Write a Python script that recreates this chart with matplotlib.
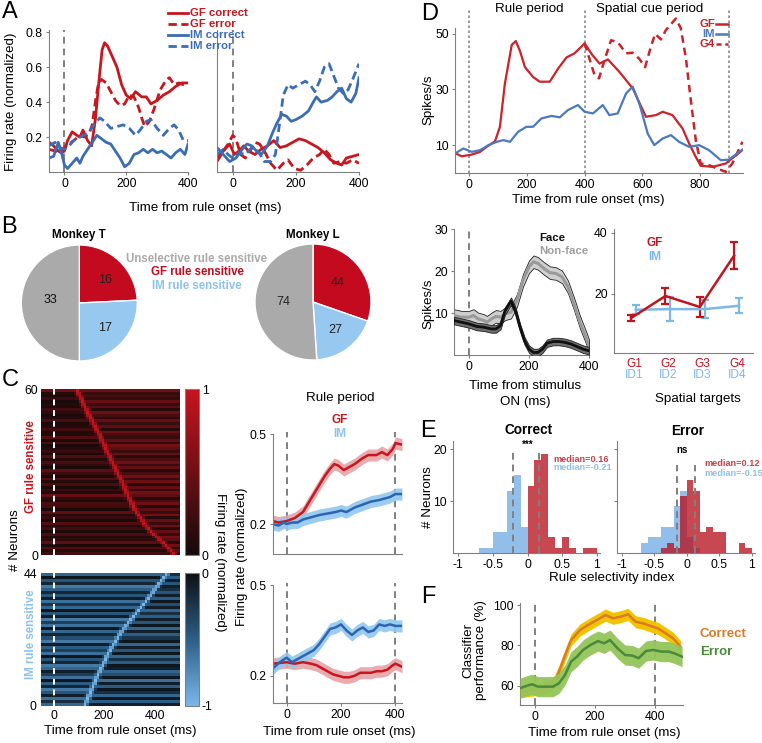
import numpy as np
import matplotlib
matplotlib.use("Agg")
import matplotlib.pyplot as plt
from matplotlib.colors import LinearSegmentedColormap
from matplotlib.lines import Line2D

plt.rcParams["font.family"] = ["Liberation Sans", "DejaVu Sans"]
plt.rcParams["axes.unicode_minus"] = False

# ---------------- data ----------------
# A: single-neuron examples (time ms, normalized rate)
a1_gfc_t = [-50, -35, -20, -10, 0, 10, 25, 40, 50, 60, 75, 88, 100, 108, 115, 122, 130, 140, 150, 160, 170, 185, 200, 215, 230, 250, 265, 280, 300, 320, 340, 360, 380, 400]
a1_gfc_v = [0.17, 0.15, 0.12, 0.11, 0.12, 0.18, 0.23, 0.21, 0.2, 0.24, 0.18, 0.15, 0.3, 0.45, 0.58, 0.7, 0.74, 0.72, 0.68, 0.64, 0.6, 0.5, 0.44, 0.42, 0.46, 0.43, 0.43, 0.39, 0.41, 0.44, 0.46, 0.49, 0.51, 0.51]
a1_gfe_t = [-50, -30, -15, 0, 15, 30, 50, 65, 80, 90, 100, 110, 120, 135, 150, 165, 180, 195, 210, 225, 240, 250, 260, 275, 290, 310, 330, 340, 355, 370, 385, 400]
a1_gfe_v = [0.13, 0.12, 0.11, 0.14, 0.16, 0.18, 0.21, 0.2, 0.22, 0.27, 0.4, 0.51, 0.53, 0.51, 0.46, 0.41, 0.38, 0.39, 0.44, 0.43, 0.37, 0.31, 0.26, 0.29, 0.36, 0.47, 0.53, 0.54, 0.5, 0.51, 0.5, 0.5]
a1_imc_t = [-50, -35, -20, -8, 0, 10, 25, 40, 50, 60, 75, 90, 105, 120, 135, 150, 165, 180, 195, 210, 225, 240, 255, 270, 285, 300, 315, 330, 345, 360, 375, 390, 400]
a1_imc_v = [0.08, 0.09, 0.17, 0.1, 0.04, 0.02, 0.05, 0.08, 0.05, 0.09, 0.13, 0.17, 0.21, 0.19, 0.17, 0.16, 0.12, 0.08, 0.03, 0.05, 0.1, 0.11, 0.13, 0.11, 0.13, 0.11, 0.12, 0.1, 0.08, 0.11, 0.13, 0.1, 0.16]
a1_ime_t = [-50, -30, -15, 0, 15, 30, 50, 75, 100, 115, 130, 150, 170, 190, 210, 230, 245, 265, 280, 300, 320, 340, 355, 370, 385, 400]
a1_ime_v = [0.15, 0.17, 0.14, 0.13, 0.15, 0.18, 0.2, 0.22, 0.28, 0.31, 0.29, 0.25, 0.26, 0.27, 0.25, 0.21, 0.24, 0.29, 0.3, 0.25, 0.21, 0.25, 0.27, 0.24, 0.18, 0.18]

a2_gfc_t = [-50, -30, -10, 5, 20, 35, 50, 70, 90, 110, 130, 150, 170, 190, 210, 230, 250, 270, 290, 310, 330, 345, 360, 380, 400]
a2_gfc_v = [0.08, 0.12, 0.16, 0.1, 0.12, 0.15, 0.12, 0.1, 0.13, 0.15, 0.18, 0.14, 0.15, 0.17, 0.19, 0.18, 0.16, 0.14, 0.11, 0.07, 0.05, 0.04, 0.08, 0.09, 0.1]
a2_gfe_t = [-50, -30, -15, 0, 10, 25, 40, 55, 70, 85, 100, 120, 140, 160, 175, 195, 215, 235, 255, 275, 290, 305, 320, 340, 360, 380, 400]
a2_gfe_v = [0.06, 0.12, 0.16, 0.21, 0.19, 0.1, 0.08, 0.12, 0.17, 0.16, 0.12, 0.05, 0.01, 0.05, 0.07, 0.02, 0.01, 0.04, 0.08, 0.1, 0.13, 0.1, 0.05, 0.06, 0.05, 0.07, 0.05]
a2_imc_t = [-50, -30, -10, 10, 30, 45, 60, 75, 90, 110, 125, 140, 155, 170, 185, 200, 220, 240, 255, 265, 280, 300, 315, 330, 345, 360, 375, 390, 400]
a2_imc_v = [0.14, 0.1, 0.06, 0.08, 0.13, 0.16, 0.15, 0.12, 0.1, 0.15, 0.22, 0.28, 0.33, 0.32, 0.29, 0.3, 0.32, 0.35, 0.4, 0.43, 0.4, 0.41, 0.43, 0.46, 0.48, 0.42, 0.4, 0.45, 0.54]
a2_ime_t = [-50, -30, -15, 0, 20, 40, 60, 80, 100, 120, 135, 150, 160, 175, 190, 210, 230, 245, 260, 275, 290, 305, 320, 335, 350, 365, 380, 400]
a2_ime_v = [0.1, 0.13, 0.1, 0.08, 0.11, 0.1, 0.14, 0.12, 0.06, 0.06, 0.1, 0.3, 0.44, 0.5, 0.48, 0.5, 0.52, 0.5, 0.46, 0.52, 0.6, 0.62, 0.55, 0.48, 0.45, 0.47, 0.53, 0.62]

# B: neuron counts (GF, IM, unselective)
pie_labels = ["GF rule sensitive", "IM rule sensitive", "Unselective rule sensitive"]
monkey_t = [16, 17, 33]
monkey_l = [44, 27, 74]

# C: heatmaps -- peak latency (ms) and background level per neuron, bottom row first
gf_latency = [475, 465, 455, 445, 433, 420, 408, 396, 385, 373,
              365, 357, 350, 343, 335, 327, 320,
              315, 310, 305, 300, 295, 290, 285, 280, 276, 272,
              266, 260, 254, 249, 243, 238, 233, 227,
              222, 216, 211, 206, 201, 196, 191, 186, 181,
              175, 169, 163, 157, 152, 146, 141, 135,
              130, 125, 120, 115, 110, 105, 100, 95]
gf_bg_pre = [0.25, 0.1, 0.35, 0.05, 0.4, 0.15, 0.1, 0.3, 0.05, 0.25,
             0.1, 0.35, 0.05, 0.2, 0.1, 0.4, 0.05, 0.25, 0.3, 0.05,
             0.15, 0.45, 0.1, 0.2, 0.05, 0.3, 0.1, 0.35, 0.05, 0.2,
             0.4, 0.05, 0.15, 0.3, 0.1, 0.35, 0.05, 0.2, 0.1, 0.05,
             0.3, 0.05, 0.35, 0.1, 0.05, 0.25, 0.1, 0.05, 0.3, 0.1,
             0.05, 0.15, 0.25, 0.05, 0.1, 0.05, 0.2, 0.05, 0.1, 0.5]
gf_bg_post = [0.2, 0.45, 0.15, 0.5, 0.1, 0.4, 0.55, 0.2, 0.45, 0.1,
              0.5, 0.2, 0.45, 0.1, 0.55, 0.2, 0.4, 0.1, 0.5, 0.3,
              0.1, 0.4, 0.55, 0.2, 0.45, 0.1, 0.5, 0.2, 0.55, 0.3,
              0.1, 0.45, 0.2, 0.5, 0.3, 0.1, 0.45, 0.2, 0.4, 0.55,
              0.15, 0.45, 0.2, 0.3, 0.5, 0.1, 0.4, 0.2, 0.45, 0.15,
              0.3, 0.5, 0.1, 0.4, 0.2, 0.45, 0.15, 0.3, 0.2, 0.5]
im_latency = [125, 130, 135, 140, 145, 150, 155, 160, 165, 170,
              175, 181, 187, 193, 199, 205, 210, 215,
              223, 230, 238, 245, 253, 261,
              270, 279, 288, 297, 306, 315,
              324, 334, 344, 354, 364, 373,
              382, 391, 400, 409, 418, 427, 437, 447]
im_bg_pre = [0.55, 0.2, 0.6, 0.1, 0.45, 0.65, 0.15, 0.5, 0.05, 0.6,
             0.3, 0.1, 0.55, 0.65, 0.15, 0.45, 0.05, 0.6, 0.3, 0.5,
             0.1, 0.65, 0.4, 0.15, 0.55, 0.05, 0.6, 0.3, 0.65, 0.1,
             0.45, 0.05, 0.55, 0.25, 0.6, 0.1, 0.45, 0.15, 0.5, 0.65,
             0.15, 0.45, 0.05, 0.55]
im_bg_post = [0.1, 0.5, 0.05, 0.55, 0.2, 0.05, 0.5, 0.1, 0.6, 0.05,
              0.4, 0.55, 0.1, 0.05, 0.5, 0.2, 0.55, 0.05, 0.45, 0.1,
              0.55, 0.05, 0.25, 0.5, 0.1, 0.55, 0.05, 0.45, 0.1, 0.5,
              0.2, 0.55, 0.1, 0.4, 0.05, 0.5, 0.1, 0.45, 0.2, 0.1,
              0.45, 0.1, 0.5, 0.2]

# C right: population averages (mean, band half-width)
c1_gf_t = [-50, -30, 0, 30, 60, 80, 100, 120, 140, 160, 175, 190, 210, 230, 250, 280, 300, 330, 350, 370, 390, 400, 424]
c1_gf_v = [0.21, 0.205, 0.21, 0.22, 0.24, 0.27, 0.3, 0.33, 0.36, 0.385, 0.4, 0.395, 0.38, 0.39, 0.4, 0.42, 0.43, 0.43, 0.44, 0.43, 0.45, 0.47, 0.465]
c1_im_t = [-50, -30, -10, 0, 20, 40, 60, 80, 100, 120, 150, 180, 200, 220, 250, 280, 310, 340, 360, 380, 400, 424]
c1_im_v = [0.2, 0.195, 0.205, 0.2, 0.205, 0.205, 0.215, 0.22, 0.225, 0.23, 0.235, 0.24, 0.245, 0.24, 0.255, 0.265, 0.275, 0.28, 0.285, 0.29, 0.3, 0.3]
c2_im_t = [-50, -25, 0, 20, 40, 60, 80, 100, 120, 140, 160, 180, 200, 220, 240, 260, 280, 300, 320, 340, 360, 380, 400, 424]
c2_im_v = [0.225, 0.245, 0.26, 0.245, 0.255, 0.265, 0.275, 0.285, 0.305, 0.33, 0.355, 0.36, 0.37, 0.35, 0.335, 0.35, 0.36, 0.345, 0.35, 0.37, 0.365, 0.37, 0.365, 0.365]
c2_gf_t = [-50, 0, 30, 60, 90, 110, 130, 150, 170, 190, 210, 230, 250, 270, 290, 310, 330, 350, 370, 390, 400, 424]
c2_gf_v = [0.24, 0.245, 0.24, 0.245, 0.24, 0.235, 0.225, 0.215, 0.205, 0.2, 0.195, 0.195, 0.2, 0.21, 0.21, 0.21, 0.215, 0.215, 0.22, 0.235, 0.24, 0.23]
c_sem = 0.02

# D top: example neuron (spikes/s)
d_gf_t = [-50, -27, 8, 37, 60, 89, 106, 123, 147, 161, 175, 193, 221, 244, 279, 308, 337, 365, 388, 400, 426, 452, 481, 521, 567, 613, 648, 671, 705, 740, 763, 786, 803, 844, 890, 948]
d_gf_v = [7.2, 6, 6.6, 7.6, 9.4, 11.4, 16.6, 32, 46, 47.4, 44, 38, 34.5, 32.8, 32.8, 37.5, 41.5, 43, 45.3, 46.6, 42.5, 39.3, 40.8, 36.3, 30.4, 20.2, 20.8, 22, 20.8, 16, 10.6, 5.8, 2.6, 2.2, 3.4, 8.2]
d_g4_t = [400, 417, 435, 450, 469, 492, 515, 544, 567, 590, 610, 630, 645, 665, 682, 717, 734, 752, 769, 786, 803, 832, 861, 890, 913, 948]
d_g4_v = [46.6, 41, 35, 34, 40.5, 47.7, 47, 43, 43.2, 41, 38, 45.3, 50, 48, 51.3, 55.5, 52, 41, 26, 11.8, 3.4, 2.8, 1.6, 0.4, 3.4, 11.2]
d_im_t = [-50, -21, 8, 37, 66, 95, 118, 141, 169, 198, 221, 250, 285, 314, 342, 377, 400, 429, 463, 486, 515, 544, 567, 590, 619, 642, 671, 700, 728, 763, 798, 832, 873, 901, 948]
d_im_v = [7, 8.8, 7.6, 8.2, 10, 11.2, 11.8, 11.2, 14.8, 16.6, 16.6, 19.6, 20.5, 20, 22.6, 24.4, 22, 21.4, 24.4, 20.8, 21.4, 28.6, 31, 25, 14.2, 10, 12.4, 13.6, 11.2, 9.4, 10, 8.2, 4.6, 4.8, 8.4]

# D bottom-left: face / non-face responses
face_t = [-50, -25, 0, 25, 50, 75, 90, 105, 120, 140, 155, 170, 185, 200, 215, 230, 245, 260, 280, 300, 320, 340, 360, 380, 400]
face_v = [8.2, 7.8, 7.4, 6.8, 6.6, 6.2, 6.2, 7.0, 10.5, 12.8, 10.5, 6.6, 3.4, 1.4, 0.6, 0.6, 1.4, 2.8, 3.2, 3.2, 3.0, 2.6, 2.0, 1.4, 1.0]
nonface_t = [-50, -25, 0, 15, 30, 50, 60, 75, 90, 105, 120, 140, 160, 180, 200, 215, 230, 250, 270, 290, 310, 330, 350, 370, 390, 400]
nonface_v = [9.4, 9, 9, 9.4, 8.6, 8.2, 7.8, 8.6, 9.2, 9, 9.8, 10.2, 13, 17.8, 21, 22.2, 21.8, 20.6, 19.6, 19.4, 18.6, 16.2, 12.2, 7.8, 4.2, 2.2]

# D bottom-right: spatial tuning
targets_gf = ["G1", "G2", "G3", "G4"]
targets_im = ["ID1", "ID2", "ID3", "ID4"]
tune_gf = [12.1, 19.3, 15.7, 32.5]
tune_gf_err = [0.9, 2.7, 3.4, 4.5]
tune_im = [14.8, 15.0, 15.0, 16.1]
tune_im_err = [1.5, 3.9, 2.9, 2.4]

# E: rule selectivity histograms, bins of 0.1 from -1 to 1
hist_edges = np.round(np.arange(-1.0, 1.0001, 0.1), 2)
corr_im = [0, 0, 0, 1, 1, 4, 4, 12, 15, 5, 0, 0, 0, 0, 0, 0, 0, 0, 0, 0]
corr_gf = [0, 0, 0, 0, 0, 0, 0, 0, 0, 0, 13, 18, 19, 3, 1, 3, 1, 0, 1, 1]
err_im = [0, 0, 0, 2, 3, 3, 5, 5, 9, 12, 3, 1, 0, 0, 0, 0, 0, 0, 0, 0]
err_gf = [0, 0, 0, 0, 0, 0, 1, 2, 1, 11, 14, 12, 4, 5, 4, 4, 0, 0, 2, 1]
med_corr = {"GF": 0.16, "IM": -0.21}
med_err = {"GF": 0.12, "IM": -0.15}

# F: decoder performance (%)
f_corr_t = [-50, -25, 0, 25, 50, 65, 80, 100, 120, 150, 180, 210, 235, 260, 285, 310, 335, 360, 385, 410, 435, 460, 485]
f_corr_v = [57, 57.5, 58, 58.5, 60, 62, 67, 75, 82.6, 87.6, 90.4, 92.9, 95, 93.4, 94.2, 95.4, 91.7, 90.9, 89.6, 88.4, 86, 83.5, 79.3]
f_err_t = [-50, -30, -10, 10, 30, 60, 80, 100, 120, 140, 160, 185, 210, 230, 250, 275, 300, 325, 345, 370, 395, 420, 445, 465, 490]
f_err_v = [58.7, 59.8, 60.7, 59.5, 59.5, 59.5, 61.2, 65.3, 71.9, 74.4, 77.7, 80.2, 82.1, 81, 82.6, 78.5, 75.2, 74.9, 73.6, 77.2, 77.7, 76.9, 76.9, 76, 74.4]

# ---------------- style ----------------
RED = "#C8161E"
BLUE = "#3B6DB4"
LBLUE = "#8DC3EB"
PGRAY = "#AAAAAA"
SPINE = "#808080"
DASH = (0, (3.5, 2.5))
TICK = 8.8
LAB = 9.6

W, H = 762, 743
fig = plt.figure(figsize=(W / 100, H / 100), dpi=100)


def box(l, t, r, b):
    return [l / W, 1 - b / H, (r - l) / W, (b - t) / H]


def ftext(x, y, s, **kw):
    kw.setdefault("ha", "center")
    kw.setdefault("va", "center")
    fig.text(x / W, 1 - y / H, s, **kw)


def style(ax):
    for s in ("top", "right"):
        ax.spines[s].set_visible(False)
    for s in ("left", "bottom"):
        ax.spines[s].set_color(SPINE)
    ax.tick_params(labelsize=TICK, length=2.5, color=SPINE, pad=2)


def vdash(ax, x, color=SPINE, lw=1.4, ls=DASH):
    ax.axvline(x, color=color, lw=lw, ls=ls, zorder=1)


# ---------------- A ----------------
for i, (l, r) in enumerate([(49, 188), (217, 359)]):
    ax = fig.add_axes(box(l, 30, r, 172))
    style(ax)
    ax.set_xlim(-50, 400)
    ax.set_ylim(0, 0.813)
    vdash(ax, 0)
    if i == 0:
        curves = [(a1_gfc_t, a1_gfc_v, RED, "-"), (a1_gfe_t, a1_gfe_v, RED, "--"),
                  (a1_imc_t, a1_imc_v, BLUE, "-"), (a1_ime_t, a1_ime_v, BLUE, "--")]
    else:
        curves = [(a2_gfc_t, a2_gfc_v, RED, "-"), (a2_gfe_t, a2_gfe_v, RED, "--"),
                  (a2_imc_t, a2_imc_v, BLUE, "-"), (a2_ime_t, a2_ime_v, BLUE, "--")]
    for t, v, c, ls in curves:
        ax.plot(t, v, color=c, lw=2.0, ls=ls if ls == "-" else (0, (3, 1.6)))
    ax.set_xticks([0, 200, 400])
    ax.set_yticks([0.2, 0.4, 0.6, 0.8])
    if i == 0:
        ax.set_yticklabels(["0.2", "0.4", "0.6", "0.8"])
    else:
        ax.set_yticklabels([])
        ax.tick_params(axis="y", length=0)

ftext(11, 102, "Firing rate (normalized)", rotation=90, fontsize=LAB)
ftext(205, 208, "Time from rule onset (ms)", fontsize=LAB)
for k, (lab, c, ls) in enumerate([("GF correct", RED, "-"), ("GF error", RED, (0, (3, 1.6))),
                                  ("IM correct", BLUE, "-"), ("IM error", BLUE, (0, (3, 1.6)))]):
    y = 13.3 + 11 * k
    fig.add_artist(Line2D([168 / W, 188 / W], [1 - y / H, 1 - y / H], color=c, lw=2, ls=ls))
    ftext(190.5, y, lab, ha="left", fontsize=8.2, fontweight="bold", color=c)

# ---------------- B ----------------
pie_colors = ["#C30A1E", "#96C8F0", PGRAY]
for (cx, cy), counts, title, lab_pos in [
        ((79.3, 303), monkey_t, "Monkey T", [(105, 280, "#222222"), (105, 328, "#222222"), (50, 300, "#111111")]),
        ((313, 302), monkey_l, "Monkey L", [(338, 283, "#222222"), (335, 330, "#222222"), (283, 302, "#222222")])]:
    ax = fig.add_axes(box(cx - 58, cy - 58, cx + 58, cy + 58))
    ax.pie(counts, colors=pie_colors, startangle=90, counterclock=False,
           wedgeprops=dict(edgecolor="white", linewidth=1.0))
    ax.set_xlim(-1, 1)
    ax.set_ylim(-1, 1)
    ax.set_aspect("auto")
    ax.axis("off")
    ftext(cx, 235, title, fontsize=8.4, fontweight="bold")
    for (x, y, c), n in zip(lab_pos, counts):
        ftext(x, y, str(n), fontsize=9, color=c)

ftext(197, 259, pie_labels[2], fontsize=8.3, fontweight="bold", color=PGRAY)
ftext(197, 272, pie_labels[0], fontsize=8.3, fontweight="bold", color="#C30A1E")
ftext(197, 286, pie_labels[1], fontsize=8.3, fontweight="bold", color=LBLUE)

# ---------------- C heatmaps ----------------
hm_t = np.arange(-45, 500, 10)


def build_map(lat, pre, post):
    rows = []
    for L, a, b in zip(lat, pre, post):
        base = np.where(hm_t < L, a, b)
        peak = np.exp(-((hm_t - L) / 13.0) ** 2)
        rows.append(np.maximum(base, peak))
    return np.array(rows)


gf_cmap = LinearSegmentedColormap.from_list("gf", ["#140a0a", "#C8141E"])
im_cmap = LinearSegmentedColormap.from_list("im", ["#7AB8EA", "#2C5E86", "#0c1014"])

ax = fig.add_axes(box(41, 389, 180, 555))
im1 = ax.imshow(build_map(gf_latency, gf_bg_pre, gf_bg_post), origin="lower", aspect="auto",
                extent=[-50, 500, 0, len(gf_latency)], cmap=gf_cmap, vmin=0, vmax=1,
                interpolation="nearest")
ax.axvline(0, color="white", lw=1.4, ls=(0, (3, 2.5)))
ax.set_yticks([0, len(gf_latency)])
ax.set_xticks([])
ax.tick_params(labelsize=TICK, length=0, pad=2)
for s in ax.spines.values():
    s.set_visible(False)
cax = fig.add_axes(box(185, 389, 199, 555))
cb = fig.colorbar(im1, cax=cax, ticks=[0, 1])
cb.outline.set_edgecolor(SPINE)
cax.tick_params(labelsize=TICK, length=0, pad=2)

ax = fig.add_axes(box(41, 573, 180, 706))
im2 = ax.imshow(-build_map(im_latency, im_bg_pre, im_bg_post), origin="lower", aspect="auto",
                extent=[-50, 500, 0, len(im_latency)], cmap=im_cmap, vmin=-1, vmax=0,
                interpolation="nearest")
ax.axvline(0, color="white", lw=1.4, ls=(0, (3, 2.5)))
ax.set_yticks([0, len(im_latency)])
ax.set_xticks([0, 200, 400])
ax.tick_params(labelsize=TICK, length=0, pad=3)
for s in ax.spines.values():
    s.set_visible(False)
cax = fig.add_axes(box(185, 573, 199, 706))
cb = fig.colorbar(im2, cax=cax, ticks=[-1, 0])
cb.outline.set_edgecolor(SPINE)
cax.tick_params(labelsize=TICK, length=0, pad=2)

ftext(15, 540, "# Neurons", rotation=90, fontsize=LAB)
ftext(31, 467, "GF rule sensitive", rotation=90, fontsize=8.3, fontweight="bold", color=RED)
ftext(31, 634, "IM rule sensitive", rotation=90, fontsize=8.3, fontweight="bold", color=LBLUE)
ftext(220, 562, "Firing rate (normalized)", rotation=270, fontsize=LAB)
ftext(120, 731, "Time from rule onset (ms)", fontsize=LAB)

# ---------------- C population ----------------
for (t, b), (yl, y0, y1) in zip([(432, 554), (583, 703)], [(0.1, 0.507, 0), (0.11, 0.507, 1)]):
    ax = fig.add_axes(box(273, t, 402, b))
    style(ax)
    ax.set_xlim(-50, 424)
    ax.set_ylim(yl, y0)
    vdash(ax, 0)
    vdash(ax, 400)
    if y1 == 0:
        series = [(c1_gf_t, c1_gf_v, RED, "#E6A2A7"), (c1_im_t, c1_im_v, "#2E64B0", "#8FC8F0")]
    else:
        series = [(c2_gf_t, c2_gf_v, RED, "#E6A2A7"), (c2_im_t, c2_im_v, "#2E64B0", "#8FC8F0")]
    for tt, vv, lc, bc in series:
        vv = np.array(vv)
        ax.fill_between(tt, vv - c_sem, vv + c_sem, color=bc, lw=0, alpha=0.9)
        ax.plot(tt, vv, color=lc, lw=1.8)
    ax.set_yticks([0.2, 0.5])
    ax.set_yticklabels(["0.2", "0.5"])
    ax.spines["left"].set_bounds(yl, 0.5)
    if y1 == 0:
        ax.set_xticks([])
    else:
        ax.set_xticks([0, 200, 400])

ftext(340, 398, "Rule period", fontsize=LAB)
ftext(340, 420, "GF", fontsize=8.5, fontweight="bold", color=RED)
ftext(340, 434, "IM", fontsize=8.5, fontweight="bold", color=LBLUE)
ftext(242, 557, "Firing rate (normalized)", rotation=90, fontsize=LAB)
ftext(339, 732, "Time from rule onset (ms)", fontsize=LAB)

# ---------------- D top ----------------
ax = fig.add_axes(box(455, 16, 743, 173))
style(ax)
ax.set_xlim(-50, 950)
ax.set_ylim(0, 56.4)
for x in (0, 400, 900):
    ax.plot([x, x], [0, 59.2], color="#8a8a8a", lw=1.2, ls=(0, (1.5, 1.5)), clip_on=False, zorder=1)
ax.plot(d_gf_t, d_gf_v, color="#CC2229", lw=1.6)
ax.plot(d_g4_t, d_g4_v, color="#CC2229", lw=1.8, ls=(0, (3, 2)), clip_on=False)
ax.plot(d_im_t, d_im_v, color="#4A79BE", lw=1.6)
ax.set_xticks([0, 200, 400, 600, 800])
ax.set_yticks([10, 30, 50])
ax.spines["left"].set_bounds(0, 52)
ftext(529, 9.3, "Rule period", fontsize=LAB)
ftext(649.5, 9.3, "Spatial cue period", fontsize=LAB)
ftext(588, 200, "Time from rule onset (ms)", fontsize=LAB)
ftext(428, 100, "Spikes/s", rotation=90, fontsize=LAB)
for k, (lab, c, ls) in enumerate([("GF", "#CC2229", "-"), ("IM", "#4A79BE", "-"), ("G4", "#CC2229", (0, (2, 1.5)))]):
    y = 24.3 + 10 * k
    ftext(715, y, lab, ha="right", fontsize=8.2, fontweight="bold", color=c)
    fig.add_artist(Line2D([716 / W, 728 / W], [1 - y / H, 1 - y / H], color=c, lw=1.8, ls=ls))

# ---------------- D bottom-left ----------------
ax = fig.add_axes(box(454, 229, 589, 355))
style(ax)
ax.set_xlim(-50, 400)
ax.set_ylim(0, 30)
vdash(ax, 0)
nf = np.array(nonface_v)
fc = np.array(face_v)
ax.fill_between(nonface_t, nf - 1.5, nf + 1.5, facecolor="#CFCFCF", edgecolor="#222222", lw=0.6, zorder=2)
ax.plot(nonface_t, nf, color="#9A9A9A", lw=2.2, zorder=3)
ax.fill_between(face_t, fc - 0.9, fc + 0.9, facecolor="#6E6E6E", edgecolor="#222222", lw=0.6, zorder=4)
ax.plot(face_t, fc, color="#111111", lw=2.0, zorder=5)
ax.set_xticks([0, 200, 400])
ax.set_yticks([10, 20, 30])
ftext(539, 238, "Face", ha="left", fontsize=8.2, fontweight="bold", color="#111111")
ftext(539, 251.5, "Non-face", ha="left", fontsize=8.2, fontweight="bold", color="#A0A0A0")
ftext(428, 304, "Spikes/s", rotation=90, fontsize=LAB)
ftext(525, 394, "Time from stimulus\nON (ms)", fontsize=LAB, linespacing=1.35)

# ---------------- D bottom-right ----------------
ax = fig.add_axes(box(614, 229, 753, 353))
style(ax)
ax.set_xlim(0.42, 4.47)
ax.set_ylim(0.65, 41.2)
pos = np.arange(1, len(targets_gf) + 1)
ax.errorbar(pos + 0.06, tune_im, yerr=tune_im_err, color="#7DB9E8", lw=1.8, capsize=3,
            capthick=1.6, elinewidth=1.6)
ax.errorbar(pos - 0.08, tune_gf, yerr=tune_gf_err, color="#C0141E", lw=1.8, capsize=3,
            capthick=1.6, elinewidth=1.6)
ax.set_yticks([20, 40])
ax.set_xticks(pos)
ax.set_xticklabels([])
ax.tick_params(axis="x", length=0)
for p, g, d in zip(pos, targets_gf, targets_im):
    ax.text(p, -0.089, g, transform=ax.get_xaxis_transform(), ha="center", va="center",
            fontsize=8.6, color="#C0141E")
    ax.text(p, -0.177, d, transform=ax.get_xaxis_transform(), ha="center", va="center",
            fontsize=8.6, color="#7DB9E8")
ftext(655, 243, "GF", fontsize=8.5, fontweight="bold", color="#C0141E")
ftext(655, 257, "IM", fontsize=8.5, fontweight="bold", color="#7DB9E8")
ftext(698, 399, "Spatial targets", fontsize=LAB)

# ---------------- E ----------------
for k, (l, r, gfc, imc, med, mtxt) in enumerate([
        (453, 600, corr_gf, corr_im, med_corr, (553, 459, 468)),
        (617, 755, err_gf, err_im, med_err, (704, 463.5, 473))]):
    ax = fig.add_axes(box(l, 441, r, 553))
    style(ax)
    ax.set_xlim(-1.077, 1.048)
    ax.set_ylim(0, 21.6)
    ax.bar(hist_edges[:-1], imc, width=0.1, align="edge", color="#92BEEA", lw=0, zorder=2)
    ax.bar(hist_edges[:-1], gfc, width=0.1, align="edge", color="#B8141F", alpha=0.78, lw=0, zorder=3)
    top = 19.4 if k == 0 else 16.9
    for m in (med["IM"], med["GF"]):
        ax.plot([m, m], [0, top], color=SPINE, lw=1.4, ls=DASH, zorder=4)
    ax.set_xticks([-1, -0.5, 0, 0.5, 1])
    ax.set_xticklabels(["-1", "-0.5", "0", "0.5", "1"])
    ax.set_yticks([10, 20])
    if k == 0:
        ax.set_yticklabels(["10", "20"])
    else:
        ax.set_yticklabels([])
    x0, y1, y2 = mtxt
    ftext(x0, y1, "median=%.2f" % med["GF"], ha="left", fontsize=6.6, fontweight="bold", color="#C8414B")
    ftext(x0, y2, "median=%.2f" % med["IM"], ha="left", fontsize=6.6, fontweight="bold", color=LBLUE)

ftext(529, 430, "Correct", fontsize=9.8, fontweight="bold")
ftext(688, 431, "Error", fontsize=9.8, fontweight="bold")
ftext(527.7, 444.5, "***", fontsize=7, fontweight="bold")
ftext(682, 450, "ns", fontsize=7, fontweight="bold")
ftext(428, 497, "# Neurons", rotation=90, fontsize=LAB)
ftext(612, 578, "Rule selectivity index", fontsize=LAB)

# ---------------- F ----------------
ax = fig.add_axes(box(520, 603, 683, 705))
style(ax)
ax.set_xlim(-50, 493)
ax.set_ylim(50.4, 101)
vdash(ax, 0)
vdash(ax, 400)
fcv = np.array(f_corr_v)
fev = np.array(f_err_v)
ax.fill_between(f_corr_t, fcv - 3, fcv + 3, color="#F2C400", lw=0, zorder=2)
ax.plot(f_corr_t, fcv, color="#D97B29", lw=1.8, zorder=3)
ax.fill_between(f_err_t, fev - 5, fev + 5, color="#94C45A", lw=0, alpha=0.95, zorder=4)
ax.plot(f_err_t, fev, color="#4A8A3A", lw=1.8, zorder=5)
ax.set_xticks([0, 200, 400])
ax.set_yticks([60, 80, 100])
ftext(700, 634, "Correct", ha="left", fontsize=9.5, fontweight="bold", color="#D97B29")
ftext(700, 652, "Error", ha="left", fontsize=9.5, fontweight="bold", color="#4A8A3A")
ftext(475, 650, "Classifier\nperformance (%)", rotation=90, fontsize=LAB, linespacing=1.1)
ftext(604, 733, "Time from rule onset (ms)", fontsize=LAB)

# ---------------- panel letters ----------------
for lab, x, y in [("A", 2, 12), ("B", 1, 227), ("C", 2, 380), ("D", 421, 14), ("E", 420, 431), ("F", 421, 597)]:
    ftext(x, y, lab, ha="left", fontsize=17)

fig.savefig("out.png", dpi=100)
